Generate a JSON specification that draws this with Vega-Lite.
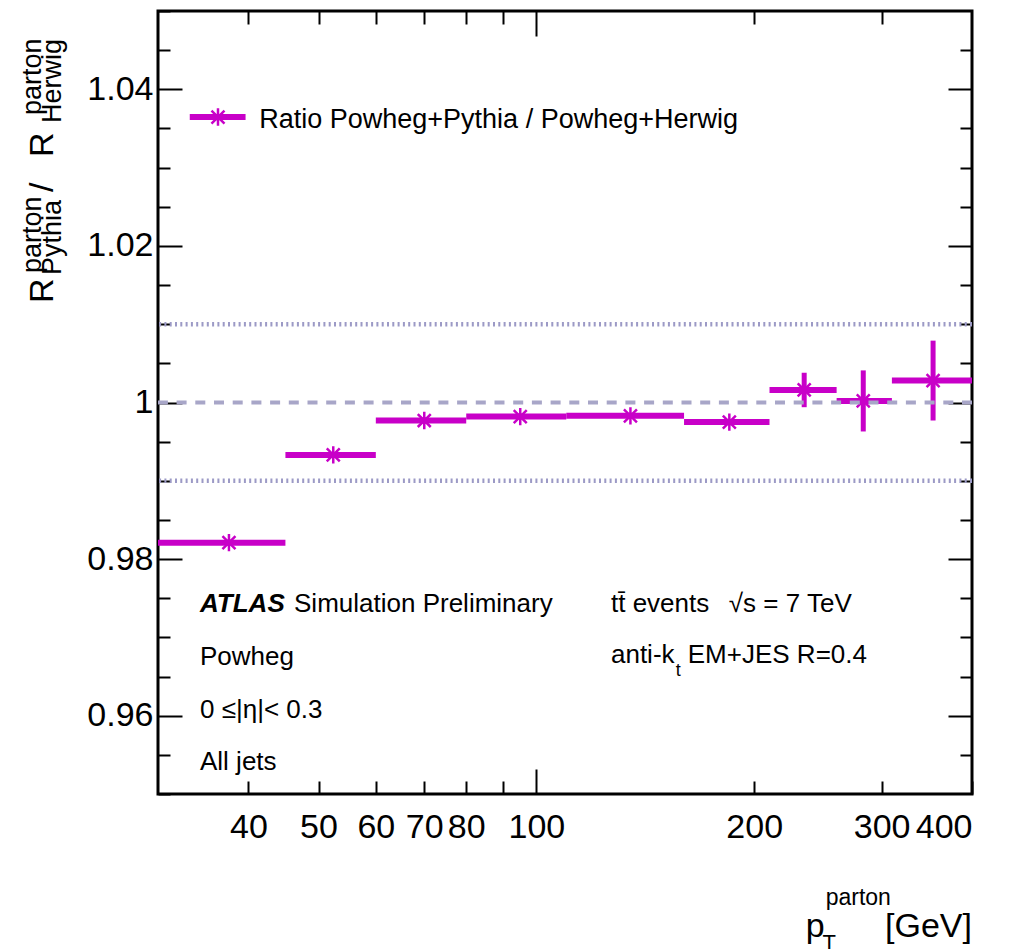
{
  "$schema": "https://vega.github.io/schema/vega-lite/v6.json",
  "width": 814,
  "height": 783,
  "autosize": {"type": "none"},
  "padding": {"left": 158, "top": 11, "right": 41, "bottom": 155},
  "background": "white",
  "datasets": {
    "bins": [
      {"lo": 30, "hi": 45, "xc": 37.6, "val": 0.9821, "ylo": 0.9818, "yhi": 0.9824},
      {"lo": 45, "hi": 60, "xc": 52.4, "val": 0.9933, "ylo": 0.9930, "yhi": 0.9936},
      {"lo": 60, "hi": 80, "xc": 70.0, "val": 0.9977, "ylo": 0.9974, "yhi": 0.9980},
      {"lo": 80, "hi": 110, "xc": 95.0, "val": 0.9982, "ylo": 0.9979, "yhi": 0.9985},
      {"lo": 110, "hi": 160, "xc": 134.9, "val": 0.9983, "ylo": 0.9980, "yhi": 0.9986},
      {"lo": 160, "hi": 210, "xc": 184.8, "val": 0.9975, "ylo": 0.9971, "yhi": 0.9979},
      {"lo": 210, "hi": 260, "xc": 234.5, "val": 1.0016, "ylo": 0.9994, "yhi": 1.0038},
      {"lo": 260, "hi": 310, "xc": 283.0, "val": 1.0002, "ylo": 0.9963, "yhi": 1.0041},
      {"lo": 310, "hi": 400, "xc": 353.4, "val": 1.0028, "ylo": 0.9977, "yhi": 1.0079}
    ],
    "refs": [{"ref": 0.99}, {"ref": 1.01}],
    "one": [{}]
  },
  "config": {
    "view": {"stroke": "black", "strokeWidth": 3},
    "font": "Liberation Sans",
    "text": {"font": "Liberation Sans", "color": "black"},
    "axis": {
      "domain": false,
      "grid": false,
      "tickColor": "black",
      "tickWidth": 2,
      "labelColor": "black",
      "labelFont": "Liberation Sans",
      "labelFontSize": 34,
      "title": null
    }
  },
  "layer": [
    {
      "data": {"name": "refs"},
      "mark": {"type": "rule", "stroke": "#9c9ac6", "strokeWidth": 4.5, "strokeDash": [2, 3.3]},
      "encoding": {
        "y": {"field": "ref", "type": "quantitative", "scale": {"domain": [0.95, 1.05], "zero": false, "nice": false}, "axis": null}
      }
    },
    {
      "data": {"name": "bins"},
      "mark": {"type": "rule", "stroke": "#c800c8", "strokeWidth": 6},
      "encoding": {
        "x": {
          "field": "lo", "type": "quantitative",
          "scale": {"type": "log", "domain": [30, 400], "nice": false},
          "axis": {
            "orient": "bottom",
            "values": [40, 50, 60, 70, 80, 90, 100, 200, 300, 400],
            "labelExpr": "datum.value == 90 ? '' : '' + datum.value",
            "tickSize": {"condition": {"test": "datum.value == 100", "value": -25}, "value": -13},
            "labelPadding": {"condition": {"test": "datum.value == 100", "value": 41}, "value": 29},
            "labelBaseline": "top"
          }
        },
        "x2": {"field": "hi"},
        "y": {
          "field": "val", "type": "quantitative",
          "scale": {"domain": [0.95, 1.05], "zero": false, "nice": false},
          "axis": {
            "orient": "left",
            "values": [0.95, 0.955, 0.96, 0.965, 0.97, 0.975, 0.98, 0.985, 0.99, 0.995, 1.0, 1.005, 1.01, 1.015, 1.02, 1.025, 1.03, 1.035, 1.04, 1.045, 1.05],
            "labelExpr": "abs(datum.value*50 - round(datum.value*50)) < 0.001 && datum.value > 0.951 && datum.value < 1.049 ? (datum.value == 1 ? '1' : format(datum.value, '.2f')) : ''",
            "tickSize": {"condition": {"test": "abs(datum.value*50 - round(datum.value*50)) < 0.001", "value": -24}, "value": -12},
            "labelPadding": 29,
            "labelBaseline": "middle"
          }
        }
      }
    },
    {
      "data": {"name": "bins"},
      "mark": {"type": "rule", "stroke": "#c800c8", "strokeWidth": 5},
      "encoding": {
        "x": {"field": "xc", "type": "quantitative", "axis": null},
        "y": {"field": "ylo", "type": "quantitative", "axis": null},
        "y2": {"field": "yhi"}
      }
    },
    {
      "data": {"name": "bins"},
      "mark": {"type": "point", "shape": "M-1,0L1,0M0,-1L0,1M-0.75,-0.75L0.75,0.75M-0.75,0.75L0.75,-0.75", "filled": false, "stroke": "#c800c8", "strokeWidth": 2.5, "size": 300, "opacity": 1},
      "encoding": {
        "x": {
          "field": "xc", "type": "quantitative",
          "axis": {
            "orient": "top",
            "values": [40, 50, 60, 70, 80, 90, 100, 200, 300],
            "labels": false,
            "tickSize": {"condition": {"test": "datum.value == 100", "value": -25}, "value": -13}
          }
        },
        "y": {
          "field": "val", "type": "quantitative",
          "axis": {
            "orient": "right",
            "values": [0.955, 0.96, 0.965, 0.97, 0.975, 0.98, 0.985, 0.99, 0.995, 1.0, 1.005, 1.01, 1.015, 1.02, 1.025, 1.03, 1.035, 1.04, 1.045],
            "labels": false,
            "tickSize": {"condition": {"test": "abs(datum.value*50 - round(datum.value*50)) < 0.001", "value": -24}, "value": -12}
          }
        }
      }
    },
    {
      "data": {"name": "one"},
      "mark": {"type": "rule", "stroke": "#a8a6c8", "strokeWidth": 4, "strokeDash": [10, 8.7]},
      "encoding": {"y": {"datum": 1, "axis": null}}
    },
    {
      "data": {"name": "one"},
      "mark": {"type": "rule", "stroke": "#c800c8", "strokeWidth": 6},
      "encoding": {"x": {"datum": 33.19, "axis": null}, "x2": {"datum": 39.64}, "y": {"datum": 1.03646, "axis": null}}
    },
    {
      "data": {"name": "one"},
      "mark": {"type": "point", "shape": "M-1,0L1,0M0,-1L0,1M-0.75,-0.75L0.75,0.75M-0.75,0.75L0.75,-0.75", "filled": false, "stroke": "#c800c8", "strokeWidth": 2.5, "size": 300, "opacity": 1},
      "encoding": {"x": {"datum": 36.31, "axis": null}, "y": {"datum": 1.03646, "axis": null}}
    },
    {
      "data": {"name": "one"},
      "mark": {"type": "text", "text": "Ratio Powheg+Pythia / Powheg+Herwig", "fontSize": 27, "align": "left", "baseline": "alphabetic"},
      "encoding": {"x": {"datum": 41.4, "axis": null}, "y": {"datum": 1.03506, "axis": null}}
    },
    {
      "data": {"name": "one"},
      "mark": {"type": "text", "text": "ATLAS", "fontSize": 26, "fontWeight": "bold", "fontStyle": "italic", "align": "left", "baseline": "alphabetic"},
      "encoding": {"x": {"datum": 34.29, "axis": null}, "y": {"datum": 0.97324, "axis": null}}
    },
    {
      "data": {"name": "one"},
      "mark": {"type": "text", "text": "Simulation Preliminary", "fontSize": 26, "align": "left", "baseline": "alphabetic"},
      "encoding": {"x": {"datum": 46.25, "axis": null}, "y": {"datum": 0.97324, "axis": null}}
    },
    {
      "data": {"name": "one"},
      "mark": {"type": "text", "text": "Powheg", "fontSize": 26, "align": "left", "baseline": "alphabetic"},
      "encoding": {"x": {"datum": 34.29, "axis": null}, "y": {"datum": 0.96648, "axis": null}}
    },
    {
      "data": {"name": "one"},
      "mark": {"type": "text", "text": "0 ≤|η|< 0.3", "fontSize": 26, "align": "left", "baseline": "alphabetic"},
      "encoding": {"x": {"datum": 34.29, "axis": null}, "y": {"datum": 0.9597, "axis": null}}
    },
    {
      "data": {"name": "one"},
      "mark": {"type": "text", "text": "All jets", "fontSize": 26, "align": "left", "baseline": "alphabetic"},
      "encoding": {"x": {"datum": 34.29, "axis": null}, "y": {"datum": 0.95307, "axis": null}}
    },
    {
      "data": {"name": "one"},
      "mark": {"type": "text", "text": "tt̄ events", "fontSize": 26, "align": "left", "baseline": "alphabetic"},
      "encoding": {"x": {"datum": 126.8, "axis": null}, "y": {"datum": 0.97324, "axis": null}}
    },
    {
      "data": {"name": "one"},
      "mark": {"type": "text", "text": "√s = 7 TeV", "fontSize": 26, "align": "left", "baseline": "alphabetic"},
      "encoding": {"x": {"datum": 184.5, "axis": null}, "y": {"datum": 0.97324, "axis": null}}
    },
    {
      "data": {"name": "one"},
      "mark": {"type": "text", "text": "anti-k", "fontSize": 26, "align": "left", "baseline": "alphabetic"},
      "encoding": {"x": {"datum": 126.8, "axis": null}, "y": {"datum": 0.96673, "axis": null}}
    },
    {
      "data": {"name": "one"},
      "mark": {"type": "text", "text": "t", "fontSize": 18, "align": "left", "baseline": "alphabetic"},
      "encoding": {"x": {"datum": 155.8, "axis": null}, "y": {"datum": 0.96507, "axis": null}}
    },
    {
      "data": {"name": "one"},
      "mark": {"type": "text", "text": "EM+JES R=0.4", "fontSize": 26, "align": "left", "baseline": "alphabetic"},
      "encoding": {"x": {"datum": 161.9, "axis": null}, "y": {"datum": 0.96673, "axis": null}}
    },
    {
      "data": {"name": "one"},
      "mark": {"type": "text", "text": "p", "fontSize": 34, "align": "left", "baseline": "alphabetic"},
      "encoding": {"x": {"datum": 235.6, "axis": null}, "y": {"datum": 0.93174, "axis": null}}
    },
    {
      "data": {"name": "one"},
      "mark": {"type": "text", "text": "parton", "fontSize": 23, "align": "left", "baseline": "alphabetic"},
      "encoding": {"x": {"datum": 251.1, "axis": null}, "y": {"datum": 0.93582, "axis": null}}
    },
    {
      "data": {"name": "one"},
      "mark": {"type": "text", "text": "T", "fontSize": 22, "align": "left", "baseline": "alphabetic"},
      "encoding": {"x": {"datum": 248.6, "axis": null}, "y": {"datum": 0.93008, "axis": null}}
    },
    {
      "data": {"name": "one"},
      "mark": {"type": "text", "text": "[GeV]", "fontSize": 34, "align": "right", "baseline": "alphabetic"},
      "encoding": {"x": {"datum": 400, "axis": null}, "y": {"datum": 0.93174, "axis": null}}
    },
    {
      "data": {"name": "one"},
      "mark": {"type": "text", "text": "R", "fontSize": 34, "angle": 270, "align": "left", "baseline": "alphabetic"},
      "encoding": {"x": {"datum": 21.48, "axis": null}, "y": {"datum": 1.01271, "axis": null}}
    },
    {
      "data": {"name": "one"},
      "mark": {"type": "text", "text": "parton", "fontSize": 27, "angle": 270, "align": "left", "baseline": "alphabetic"},
      "encoding": {"x": {"datum": 20.68, "axis": null}, "y": {"datum": 1.01654, "axis": null}}
    },
    {
      "data": {"name": "one"},
      "mark": {"type": "text", "text": "Pythia", "fontSize": 27, "angle": 270, "align": "left", "baseline": "alphabetic"},
      "encoding": {"x": {"datum": 22.04, "axis": null}, "y": {"datum": 1.01628, "axis": null}}
    },
    {
      "data": {"name": "one"},
      "mark": {"type": "text", "text": "/", "fontSize": 34, "angle": 270, "align": "left", "baseline": "alphabetic"},
      "encoding": {"x": {"datum": 21.48, "axis": null}, "y": {"datum": 1.02688, "axis": null}}
    },
    {
      "data": {"name": "one"},
      "mark": {"type": "text", "text": "R", "fontSize": 34, "angle": 270, "align": "left", "baseline": "alphabetic"},
      "encoding": {"x": {"datum": 21.48, "axis": null}, "y": {"datum": 1.03135, "axis": null}}
    },
    {
      "data": {"name": "one"},
      "mark": {"type": "text", "text": "parton", "fontSize": 27, "angle": 270, "align": "left", "baseline": "alphabetic"},
      "encoding": {"x": {"datum": 20.68, "axis": null}, "y": {"datum": 1.03672, "axis": null}}
    },
    {
      "data": {"name": "one"},
      "mark": {"type": "text", "text": "Herwig", "fontSize": 27, "angle": 270, "align": "left", "baseline": "alphabetic"},
      "encoding": {"x": {"datum": 22.04, "axis": null}, "y": {"datum": 1.0357, "axis": null}}
    }
  ],
  "resolve": {"axis": {"x": "independent", "y": "independent"}}
}
